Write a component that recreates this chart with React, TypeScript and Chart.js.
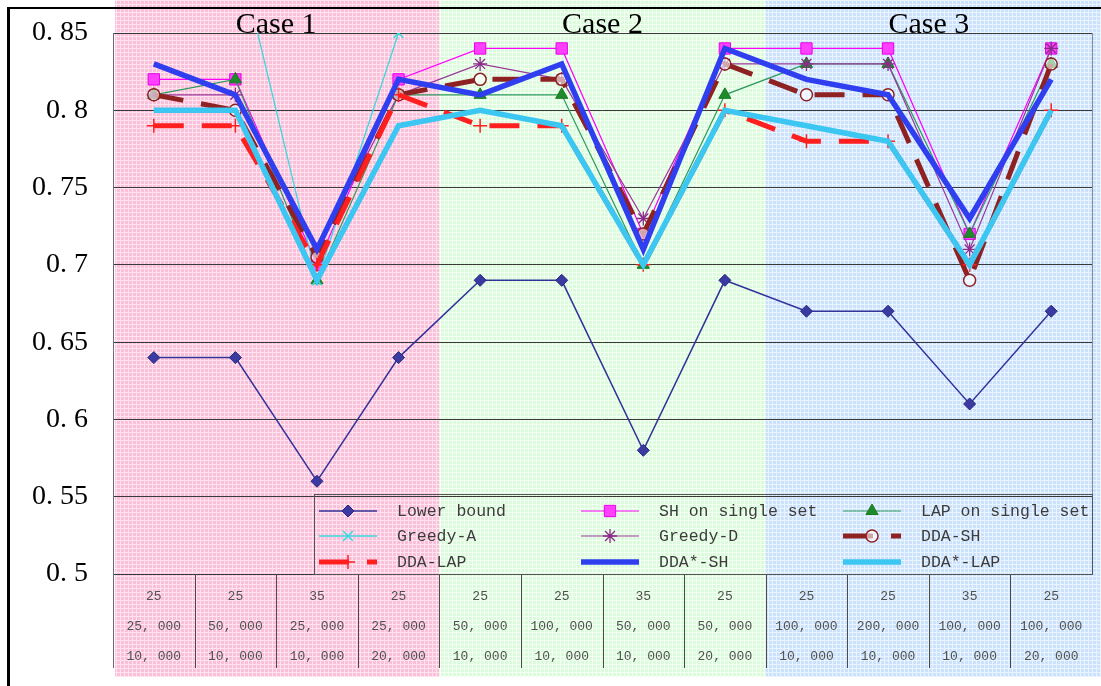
import React, { useEffect, useRef } from "react";
import { Chart, registerables } from "chart.js";
import { drawPoint } from "chart.js/helpers";

Chart.register(...registerables);

// ---- data ----
const rowThreads = ["25", "25", "35", "25", "25", "25", "35", "25", "25", "25", "35", "25"];
const rowSize = ["25, 000", "50, 000", "25, 000", "25, 000", "50, 000", "100, 000", "50, 000", "50, 000", "100, 000", "200, 000", "100, 000", "100, 000"];
const rowSet = ["10, 000", "10, 000", "10, 000", "20, 000", "10, 000", "10, 000", "10, 000", "20, 000", "10, 000", "10, 000", "10, 000", "20, 000"];

const caseLabels = ["Case 1", "Case 2", "Case 3"];
const caseStart = [0, 4, 8];
const caseEnd = [3, 7, 11];

const yTickLabels = ["0. 5", "0. 55", "0. 6", "0. 65", "0. 7", "0. 75", "0. 8", "0. 85"];

const lowerBound = [0.64, 0.64, 0.56, 0.64, 0.69, 0.69, 0.58, 0.69, 0.67, 0.67, 0.61, 0.67];
const shSingle = [0.82, 0.82, 0.70, 0.82, 0.84, 0.84, 0.72, 0.84, 0.84, 0.84, 0.72, 0.84];
const lapSingle = [0.81, 0.82, 0.69, 0.81, 0.81, 0.81, 0.70, 0.81, 0.83, 0.83, 0.72, 0.83];
const greedyA = [0.91, 0.91, 0.69, 0.85, null, null, null, null, null, null, null, null];
const greedyD = [0.81, 0.81, 0.71, 0.81, 0.83, 0.82, 0.73, 0.83, 0.83, 0.83, 0.71, 0.84];
const ddaSH = [0.81, 0.80, 0.705, 0.81, 0.82, 0.82, 0.72, 0.83, 0.81, 0.81, 0.69, 0.83];
const ddaLAP = [0.79, 0.79, 0.70, 0.81, 0.79, 0.79, 0.70, 0.80, 0.78, 0.78, 0.70, 0.80];
const ddaStarSH = [0.83, 0.81, 0.71, 0.82, 0.81, 0.83, 0.71, 0.84, 0.82, 0.81, 0.73, 0.82];
const ddaStarLAP = [0.80, 0.80, 0.69, 0.79, 0.80, 0.79, 0.70, 0.80, 0.79, 0.78, 0.70, 0.80];

const seriesNames = ["Lower bound", "SH on single set", "LAP on single set", "Greedy-A", "Greedy-D", "DDA-SH", "DDA-LAP", "DDA*-SH", "DDA*-LAP"];

function makePattern(base: string, line: string): CanvasPattern | string {
  const c = document.createElement("canvas");
  c.width = 4;
  c.height = 4;
  const g = c.getContext("2d");
  if (!g) return base;
  g.fillStyle = base;
  g.fillRect(0, 0, 4, 4);
  g.fillStyle = line;
  g.fillRect(0, 0, 4, 1);
  g.fillRect(0, 0, 1, 4);
  const p = g.createPattern(c, "repeat");
  return p || base;
}

export default function App() {
  const ref = useRef<HTMLCanvasElement | null>(null);

  useEffect(() => {
    const canvas = ref.current;
    if (!canvas) return;

    const patterns = [
      makePattern("rgb(250,192,218)", "rgb(255,228,240)"),
      makePattern("rgb(220,250,220)", "rgb(244,255,244)"),
      makePattern("rgb(204,226,252)", "rgb(234,244,255)"),
    ];

    const labels = rowThreads.map((t, i) => [t, rowSize[i], rowSet[i]]);

    const mk = (i: number, data: (number | null)[], o: any) => ({
      label: seriesNames[i],
      data,
      order: 8 - i,
      fill: false,
      tension: 0,
      spanGaps: false,
      pointHoverRadius: o.pointRadius ?? 0,
      ...o,
    });

    const datasets: any[] = [
      mk(0, lowerBound, { borderColor: "#333399", borderWidth: 1.5, pointStyle: "rectRot", pointRadius: 6, pointBackgroundColor: "#3a3aa0", pointBorderColor: "#262680", pointBorderWidth: 1 }),
      mk(1, shSingle, { borderColor: "#ff00ff", borderWidth: 1.2, pointStyle: "rect", pointRadius: 8, pointBackgroundColor: "#ff40ff", pointBorderColor: "#e600e6", pointBorderWidth: 1 }),
      mk(2, lapSingle, { borderColor: "#2e9a5e", borderWidth: 1.2, pointStyle: "triangle", pointRadius: 7, pointBackgroundColor: "#1f8a2a", pointBorderColor: "#1a7a22", pointBorderWidth: 1 }),
      mk(3, greedyA, { borderColor: "#3ad8e0", borderWidth: 1.3, pointStyle: "crossRot", pointRadius: 7, pointBackgroundColor: "#3ad8e0", pointBorderColor: "#3ad8e0", pointBorderWidth: 1.5 }),
      mk(4, greedyD, { borderColor: "#9a3a9a", borderWidth: 1.2, pointStyle: "star", pointRadius: 7, pointBackgroundColor: "#8a2a8a", pointBorderColor: "#8a2a8a", pointBorderWidth: 1.3 }),
      mk(5, ddaSH, { borderColor: "#8e2222", borderWidth: 5, borderDash: [30, 18], pointStyle: "circle", pointRadius: 6, pointBackgroundColor: "rgba(255,255,255,0.6)", pointBorderColor: "#8e2222", pointBorderWidth: 1.5 }),
      mk(6, ddaLAP, { borderColor: "#ff1f1f", borderWidth: 5, borderDash: [30, 18], pointStyle: "cross", pointRadius: 7, pointBackgroundColor: "#ff1f1f", pointBorderColor: "#ff1f1f", pointBorderWidth: 1.5 }),
      mk(7, ddaStarSH, { borderColor: "#2f3ff0", borderWidth: 5.5, pointRadius: 0 }),
      mk(8, ddaStarLAP, { borderColor: "#3cc6f2", borderWidth: 5.5, pointRadius: 0 }),
    ];

    const bandsPlugin = {
      id: "bands",
      beforeDraw(chart: any) {
        const { ctx, scales } = chart;
        const x = scales.x;
        const half = (x.getPixelForValue(1) - x.getPixelForValue(0)) / 2;
        ctx.save();
        caseStart.forEach((s, k) => {
          const x0 = x.getPixelForValue(s) - half + (k === 0 ? 2 : 0);
          const x1 = k === caseStart.length - 1 ? chart.width : x.getPixelForValue(caseEnd[k]) + half;
          ctx.fillStyle = patterns[k];
          ctx.fillRect(x0, 0, x1 - x0, 677);
        });
        ctx.restore();
      },
      beforeDatasetsDraw(chart: any) {
        const { ctx, chartArea, scales } = chart;
        const x = scales.x;
        const half = (x.getPixelForValue(1) - x.getPixelForValue(0)) / 2;
        ctx.save();
        ctx.strokeStyle = "#4a4a4a";
        ctx.lineWidth = 1;
        for (let i = 0; i < rowThreads.length; i++) {
          const px = Math.round(x.getPixelForValue(i) - half) + 0.5;
          ctx.beginPath();
          ctx.moveTo(px, chartArea.bottom);
          ctx.lineTo(px, chartArea.bottom + 94);
          ctx.stroke();
        }
        ctx.strokeStyle = "#8a8a8a";
        ctx.beginPath();
        ctx.moveTo(Math.round(chartArea.right) + 0.5, chartArea.top);
        ctx.lineTo(Math.round(chartArea.right) + 0.5, chartArea.bottom);
        ctx.stroke();
        ctx.restore();
      },
      afterDatasetsDraw(chart: any) {
        const { ctx, chartArea, scales } = chart;
        const x = scales.x;
        const half = (x.getPixelForValue(1) - x.getPixelForValue(0)) / 2;
        ctx.save();
        ctx.fillStyle = "#000";
        ctx.font = "30px 'Liberation Serif', serif";
        ctx.textAlign = "center";
        ctx.textBaseline = "middle";
        caseStart.forEach((s, k) => {
          const cx = (x.getPixelForValue(s) - half + x.getPixelForValue(caseEnd[k]) + half) / 2;
          ctx.fillText(caseLabels[k], cx, 25);
        });

        const bw = 778;
        const bh = 80;
        const bl = chartArea.right - bw;
        const bt = chartArea.bottom - bh;
        ctx.strokeStyle = "#555";
        ctx.lineWidth = 1;
        ctx.strokeRect(Math.round(bl) + 0.5, Math.round(bt) + 0.5, bw, bh);
        ctx.font = "16.5px 'Liberation Mono', monospace";
        ctx.textAlign = "left";
        ctx.textBaseline = "middle";
        const rowsY = [17, 42, 68];
        datasets.forEach((ds, i) => {
          const col = i % 3;
          const row = Math.floor(i / 3);
          const lx = bl + 5 + col * 262;
          const ly = bt + rowsY[row];
          ctx.save();
          ctx.strokeStyle = ds.borderColor;
          ctx.lineWidth = ds.borderWidth;
          ctx.setLineDash(ds.borderDash || []);
          ctx.beginPath();
          ctx.moveTo(lx, ly);
          ctx.lineTo(lx + 58, ly);
          ctx.stroke();
          ctx.setLineDash([]);
          if (ds.pointRadius > 0) {
            ctx.fillStyle = ds.pointBackgroundColor;
            ctx.strokeStyle = ds.pointBorderColor;
            ctx.lineWidth = ds.pointBorderWidth;
            drawPoint(ctx, { pointStyle: ds.pointStyle, rotation: 0, radius: ds.pointRadius, borderWidth: ds.pointBorderWidth }, lx + 29, ly);
          }
          ctx.restore();
          ctx.fillStyle = "#3c3c3c";
          ctx.fillText(ds.label, lx + 78, ly + 1);
        });

        ctx.strokeStyle = "#6a6a6a";
        ctx.lineWidth = 1;
        ctx.beginPath();
        ctx.moveTo(Math.round(chartArea.left) + 0.5, chartArea.top);
        ctx.lineTo(Math.round(chartArea.left) + 0.5, chartArea.bottom + 94);
        ctx.stroke();

        ctx.fillStyle = "#000";
        ctx.fillRect(7, 7, 3, chart.height - 7);
        ctx.fillRect(7, 7, chart.width - 7, 2);
        ctx.restore();
      },
    };

    const chart = new Chart(canvas, {
      type: "line",
      data: { labels, datasets },
      options: {
        animation: false,
        responsive: false,
        maintainAspectRatio: false,
        devicePixelRatio: 1,
        layout: { padding: { left: 0, top: 33, right: 8, bottom: 0 } },
        plugins: {
          legend: { display: false },
          tooltip: { enabled: false },
          title: { display: false },
        },
        scales: {
          x: {
            offset: true,
            grid: { display: false, drawTicks: false },
            border: { display: false },
            ticks: {
              autoSkip: false,
              maxRotation: 0,
              minRotation: 0,
              padding: 8,
              color: "#505050",
              font: { family: "'Liberation Mono', monospace", size: 13, lineHeight: "30px" } as any,
            },
            afterFit: (s: any) => {
              s.height = 112;
            },
          },
          y: {
            min: 0.5,
            max: 0.85,
            grid: { color: "#3a3a3a", lineWidth: 1, drawTicks: true, tickLength: 25, tickColor: "rgba(0,0,0,0)" },
            border: { display: false },
            ticks: {
              stepSize: 0.05,
              padding: 0,
              color: "#000",
              font: { family: "'Liberation Serif', serif", size: 28 },
              callback: (_v: any, i: number) => yTickLabels[i],
            },
            afterFit: (s: any) => {
              s.width = 113;
            },
          },
        },
      },
      plugins: [bandsPlugin],
    });

    return () => chart.destroy();
  }, []);

  return (
    <div style={{ position: "fixed", left: 0, top: 0, width: 1101, height: 686, background: "#fff" }}>
      <canvas ref={ref} width={1101} height={686} style={{ width: 1101, height: 686, display: "block" }} />
    </div>
  );
}
